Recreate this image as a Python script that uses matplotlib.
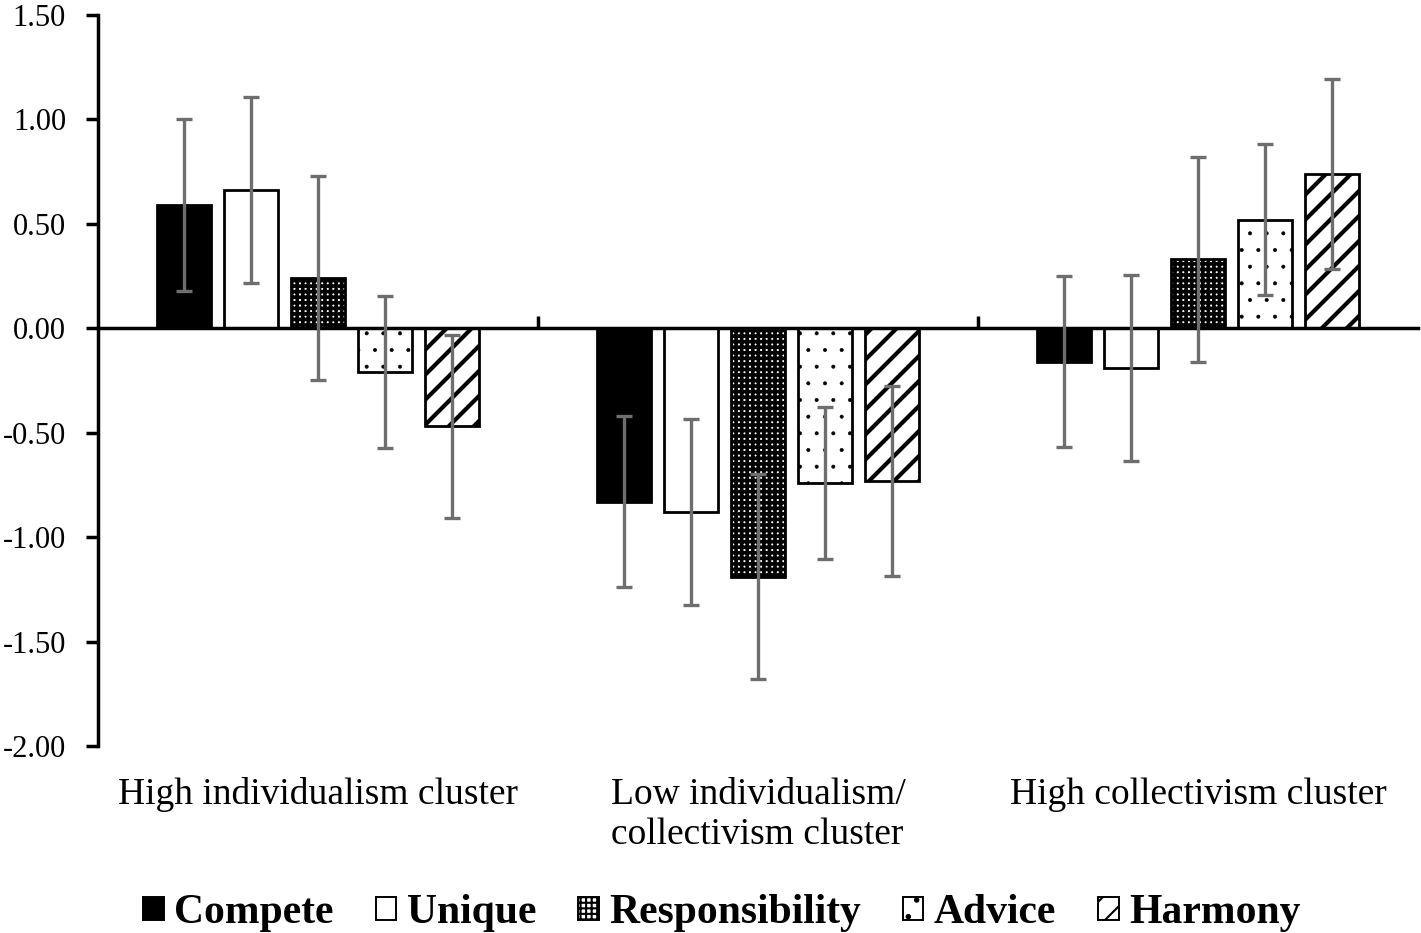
import matplotlib
matplotlib.use("Agg")
import matplotlib.pyplot as plt
import matplotlib.hatch as mhatch
import numpy as np
from matplotlib.patches import Patch

plt.rcParams['font.family'] = ['Liberation Serif', 'DejaVu Serif']


# '/' hatch a bit denser than the default one (8 lines per unit instead of 6)
class WideStripes(mhatch.NorthEastHatch):
    def __init__(self, hatch, density):
        self.num_lines = int(round(hatch.count('/') * density * 4 / 3))
        self.num_vertices = (self.num_lines + 1) * 2 if self.num_lines else 0


mhatch._hatch_types = [WideStripes if h is mhatch.NorthEastHatch else h
                       for h in mhatch._hatch_types]

# ======
# data
# ======
clusters = ["High individualism cluster",
            "Low individualism/\ncollectivism cluster",
            "High collectivism cluster"]
series = ["Compete", "Unique", "Responsibility", "Advice", "Harmony"]

compete = [0.59, -0.83, -0.16]
unique = [0.66, -0.88, -0.19]
responsibility = [0.24, -1.19, 0.33]
advice = [-0.21, -0.74, 0.52]
harmony = [-0.47, -0.73, 0.74]

compete_err = [0.41, 0.41, 0.41]
unique_err = [0.445, 0.445, 0.445]
responsibility_err = [0.49, 0.49, 0.49]
advice_err = [0.365, 0.365, 0.36]
harmony_err = [0.44, 0.455, 0.455]

values = [compete, unique, responsibility, advice, harmony]
errors = [compete_err, unique_err, responsibility_err, advice_err, harmony_err]

# face colour, hatch, hatch linewidth
styles = [("black", None, 1.0),
          ("white", None, 1.0),
          ("white", "+++", 2.6),
          ("white", ".", 0.4),
          ("white", "/", 3.0)]

fig = plt.figure(figsize=(14.21, 9.33), dpi=100)
ax = fig.add_axes([0.069, 0.2004, 0.929, 0.7836])

x = np.arange(len(clusters))
width = 0.123
step = 0.152

for k, (vals, errs) in enumerate(zip(values, errors)):
    face, hatch, hlw = styles[k]
    pos = x + (k - 2) * step
    with plt.rc_context({'hatch.linewidth': hlw, 'hatch.color': 'black'}):
        ax.bar(pos, vals, width, facecolor=face, edgecolor='black',
               linewidth=2.0, hatch=hatch, zorder=2)
    ax.errorbar(pos, vals, yerr=errs, fmt='none', ecolor='#6e6e6e',
                elinewidth=2.4, capsize=6, capthick=2.4, zorder=3)

ax.set_xlim(-0.5, 2.5)
ax.set_ylim(-2.0, 1.5)
ticks = np.arange(-2.0, 1.51, 0.5)
ax.set_yticks(ticks)
ax.set_yticklabels(["%.2f" % v for v in ticks], fontsize=22)
ax.tick_params(axis='y', direction='out', length=9, width=2.5, pad=14)

ax.spines['top'].set_visible(False)
ax.spines['right'].set_visible(False)
ax.spines['left'].set_linewidth(2.5)
ax.spines['bottom'].set_position(('data', 0))
ax.spines['bottom'].set_linewidth(2.5)
ax.set_xticks([0.5, 1.5])
ax.set_xticklabels([])
ax.tick_params(axis='x', direction='in', length=9, width=2.5)

for i, name in enumerate(clusters):
    ax.text(i, -2.15, name, ha='center', va='top', multialignment='left',
            fontsize=27, linespacing=1.22)

handles = []
for k, name in enumerate(series):
    face, hatch, hlw = styles[k]
    handles.append(Patch(facecolor=face, edgecolor='black', linewidth=1.4,
                         hatch=hatch, label=name))
with plt.rc_context({'hatch.linewidth': 1.5}):
    fig.legend(handles=handles, loc='center', bbox_to_anchor=(0.508, 0.021),
               ncol=5, frameon=False, prop={'weight': 'bold', 'size': 30},
               handlelength=0.5, handleheight=0.48, handletextpad=0.25,
               columnspacing=1.0, borderpad=0.1)

fig.savefig("out.png", dpi=100)
